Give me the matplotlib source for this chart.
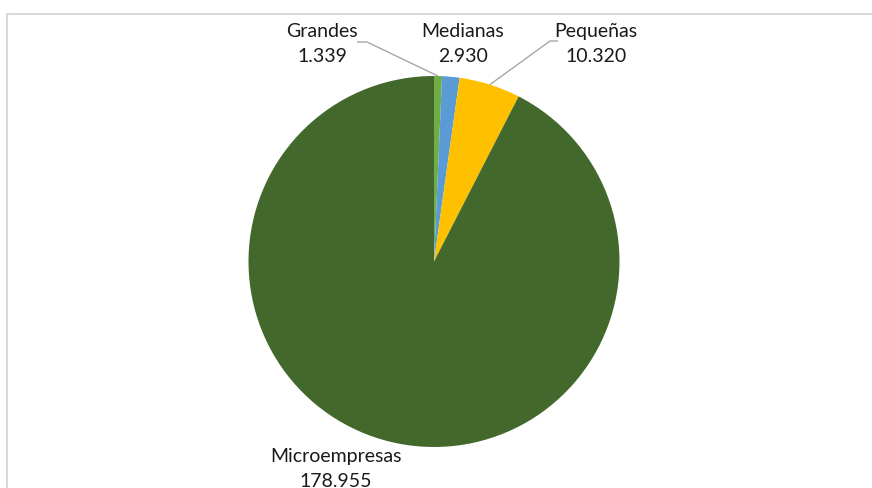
import numpy as np
import matplotlib
matplotlib.use("Agg")
import matplotlib.pyplot as plt
from matplotlib.patches import Rectangle

W, H = 872, 488  # canvas size in pixels

categories = ["Grandes", "Medianas", "Pequeñas", "Microempresas"]
values = [1339, 2930, 10320, 178955]
value_labels = ["1.339", "2.930", "10.320", "178.955"]
colors = ["#70AD47", "#5B9BD5", "#FFC000", "#43682B"]

plt.rcParams["font.family"] = ["Lato", "DejaVu Sans"]

fig = plt.figure(figsize=(W / 100, H / 100), dpi=100)
ax = fig.add_axes([0, 0, 1, 1])

# chart area border (light grey, cut off on the right and bottom)
fig.patches.append(Rectangle((7 / W, -0.1), 1.1, (H - 14) / H + 0.1,
                             transform=fig.transFigure, fill=False,
                             edgecolor="#D9D9D9", linewidth=1.5))

cx, cy, r = 434, H - 261.5, 185.5
wedges, _ = ax.pie(values, colors=colors, startangle=90, counterclock=False,
                   center=(cx, cy), radius=r, frame=True,
                   wedgeprops=dict(linewidth=0))
ax.set_xlim(0, W)
ax.set_ylim(0, H)
ax.set_aspect("equal")
ax.axis("off")

# label positions (text centre) and leader elbows, in pixel coords from top
label_pos = [(322, 44), (463, 44), (596, 44), (336, 469)]
elbows = [((357, 42), (367, 42)), None, ((558, 41), (550, 41)), None]

for w, cat, vl, (lx, ly), elb in zip(wedges, categories, value_labels, label_pos, elbows):
    ax.text(lx, H - ly, f"{cat}\n{vl}", ha="center", va="center",
            fontsize=14, color="#1a1a1a", linespacing=1.55)
    if elb is not None:
        ang = np.deg2rad((w.theta1 + w.theta2) / 2)
        px, py = cx + r * np.cos(ang), cy + r * np.sin(ang)
        (x0, y0), (x1, y1) = elb
        ax.plot([x0, x1, px], [H - y0, H - y1, py], color="#A6A6A6",
                linewidth=1.0, solid_capstyle="butt")

fig.savefig("out.png", dpi=100)
